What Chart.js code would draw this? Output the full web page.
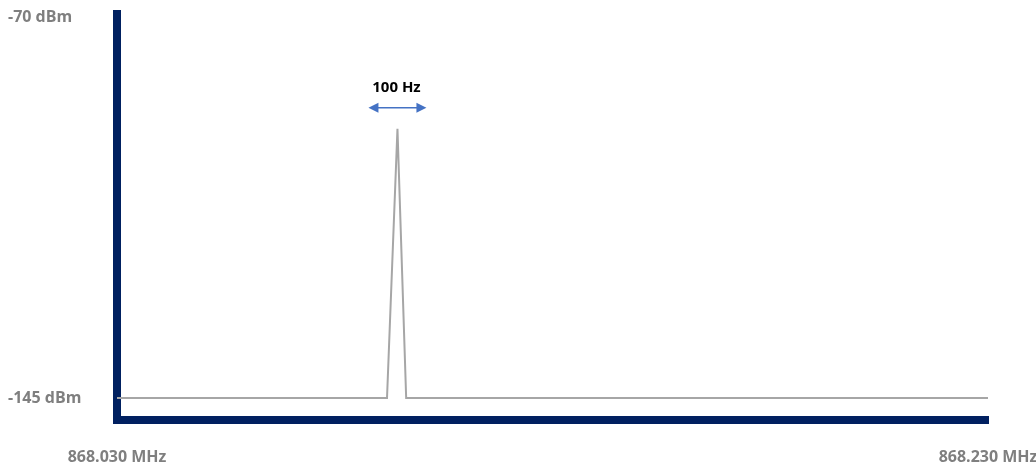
<!DOCTYPE html>
<html lang="en">
<head>
    <meta charset="UTF-8">
    <title>Carrier Spectrum</title>
    <script src="https://cdn.jsdelivr.net/npm/chart.js"></script>
    <style>
        html, body {
            margin: 0;
            padding: 0;
            background: #ffffff;
        }
        #wrap {
            width: 1036px;
            height: 469px;
        }
    </style>
</head>
<body>

<div id="wrap"><canvas id="spectrumChart" width="1036" height="469"></canvas></div>

<script>
    // Frequency offset from 868.030 MHz (kHz) and level (dBm)
    const freqKHz = [0, 62.0, 64.4, 66.4, 200];
    const levelDbm = [-145, -145, -92, -145, -145];

    // Tick values and labels
    const yTickValues = [-70, -145];
    const yTickLabels = ['-70 dBm', '-145 dBm'];
    const xTickValues = [0, 200];
    const xTickLabels = ['868.030 MHz', '868.230 MHz'];

    const spanLabel = '100 Hz';
    const peakIndex = 2;

    const labelFont = { family: 'Open Sans', size: 16, weight: 'bold' };

    // "100 Hz" label with a double headed arrow over the peak
    const spanMarker = {
        id: 'spanMarker',
        afterDatasetsDraw(chart) {
            const ctx = chart.ctx;
            const x = chart.scales.x.getPixelForValue(freqKHz[peakIndex]);
            const y = chart.scales.y.getPixelForValue(levelDbm[peakIndex]);
            const ay = y - 21;
            const half = 29;
            ctx.save();
            ctx.strokeStyle = '#4472c4';
            ctx.fillStyle = '#4472c4';
            ctx.lineWidth = 1.5;
            ctx.beginPath();
            ctx.moveTo(x - half + 8, ay);
            ctx.lineTo(x + half - 8, ay);
            ctx.stroke();
            ctx.beginPath();
            ctx.moveTo(x - half, ay);
            ctx.lineTo(x - half + 10, ay - 5);
            ctx.lineTo(x - half + 10, ay + 5);
            ctx.closePath();
            ctx.fill();
            ctx.beginPath();
            ctx.moveTo(x + half, ay);
            ctx.lineTo(x + half - 10, ay - 5);
            ctx.lineTo(x + half - 10, ay + 5);
            ctx.closePath();
            ctx.fill();
            ctx.fillStyle = '#000000';
            ctx.font = 'bold 15px "Open Sans"';
            ctx.textAlign = 'center';
            ctx.textBaseline = 'middle';
            ctx.fillText(spanLabel, x - 1, y - 41);
            ctx.restore();
        }
    };

    const ctx = document.getElementById('spectrumChart').getContext('2d');
    new Chart(ctx, {
        type: 'line',
        data: {
            datasets: [{
                data: freqKHz.map((f, i) => ({ x: f, y: levelDbm[i] })),
                borderColor: '#a6a6a6',
                borderWidth: 2,
                pointRadius: 0,
                tension: 0,
                fill: false
            }]
        },
        options: {
            responsive: false,
            animation: false,
            layout: {
                padding: { left: 8, top: 14, right: 48, bottom: 0 }
            },
            plugins: {
                legend: { display: false },
                tooltip: { enabled: false }
            },
            scales: {
                x: {
                    type: 'linear',
                    min: 0,
                    max: 200,
                    grid: { display: false, drawTicks: false },
                    border: { display: true, color: '#002060', width: 8 },
                    afterBuildTicks(scale) {
                        scale.ticks = xTickValues.map(v => ({ value: v }));
                    },
                    afterFit(scale) {
                        scale.height = 49;
                        scale.paddingLeft = 0;
                        scale.paddingRight = 0;
                    },
                    ticks: {
                        color: '#7f7f7f',
                        font: labelFont,
                        padding: 28,
                        maxRotation: 0,
                        callback(value) {
                            const i = xTickValues.indexOf(value);
                            return i >= 0 ? xTickLabels[i] : '';
                        }
                    }
                },
                y: {
                    min: -149.33,
                    max: -69.4,
                    grid: { display: false, drawTicks: false },
                    border: { display: true, color: '#002060', width: 8 },
                    afterBuildTicks(scale) {
                        scale.ticks = yTickValues.map(v => ({ value: v }));
                    },
                    afterFit(scale) {
                        scale.width = 109;
                        scale.paddingTop = 0;
                        scale.paddingBottom = 0;
                    },
                    ticks: {
                        color: '#7f7f7f',
                        font: labelFont,
                        crossAlign: 'far',
                        callback(value) {
                            const i = yTickValues.indexOf(value);
                            return i >= 0 ? yTickLabels[i] : '';
                        }
                    }
                }
            }
        },
        plugins: [spanMarker]
    });
</script>

</body>
</html>
